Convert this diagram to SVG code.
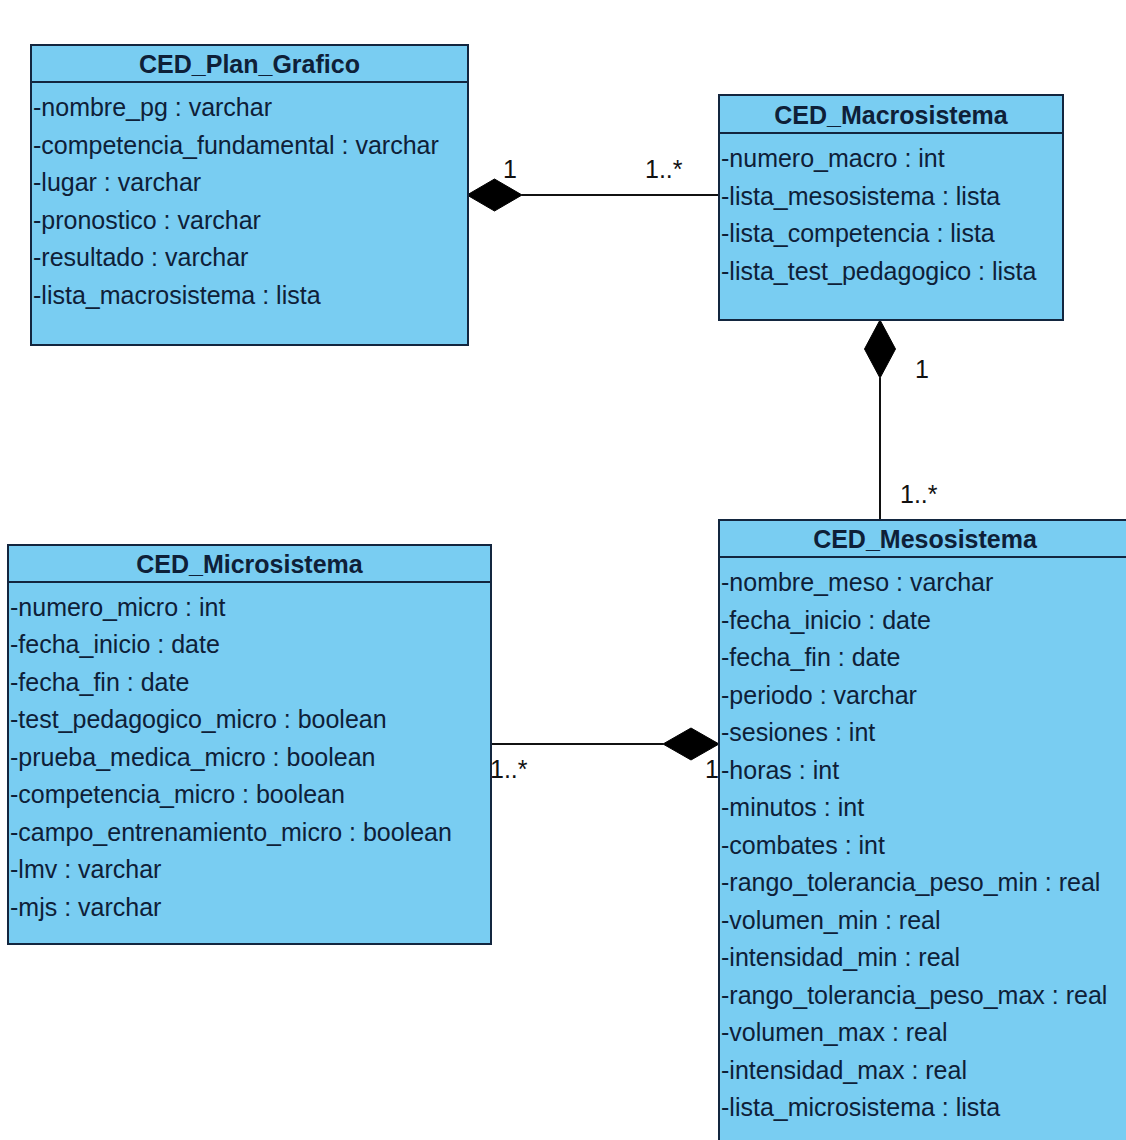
<svg xmlns="http://www.w3.org/2000/svg" width="1126" height="1140" viewBox="0 0 1126 1140">
  <style>
    .box { fill: #79cdf2; stroke: #13263f; stroke-width: 2; }
    .div { stroke: #13263f; stroke-width: 2; }
    .title { font-family: "Liberation Sans", Arial, sans-serif; font-size: 25px; font-weight: bold; fill: #0e2038; text-anchor: middle; }
    .attr { font-family: "Liberation Sans", Arial, sans-serif; font-size: 25px; fill: #0e2038; }
    .mult { font-family: "Liberation Sans", Arial, sans-serif; font-size: 25px; fill: #111; }
    .edge { stroke: #111; stroke-width: 2; fill: none; }
    .diamond { fill: #000; stroke: #000; stroke-width: 1; }
  </style>
  <rect width="1126" height="1140" fill="#ffffff"/>

  <!-- composition connectors -->
  <g id="connectors">
    <!-- CED_Plan_Grafico <>— CED_Macrosistema -->
    <line class="edge" x1="522" y1="195" x2="719" y2="195"/>
    <polygon class="diamond" points="467,195 494.5,179 522,195 494.5,211"/>
    <text class="mult" x="503" y="178">1</text>
    <text class="mult" x="645" y="178">1..*</text>

    <!-- CED_Macrosistema <>— CED_Mesosistema -->
    <line class="edge" x1="880" y1="378" x2="880" y2="520"/>
    <polygon class="diamond" points="880,320 895.5,349 880,378 864.5,349"/>
    <text class="mult" x="915" y="378">1</text>
    <text class="mult" x="900" y="503">1..*</text>

    <!-- CED_Mesosistema <>— CED_Microsistema -->
    <line class="edge" x1="491" y1="744" x2="663" y2="744"/>
    <polygon class="diamond" points="719,744 691,728 663,744 691,760"/>
    <text class="mult" x="490" y="778">1..*</text>
    <text class="mult" x="705" y="778">1</text>
  </g>

  <!-- CED_Plan_Grafico -->
  <g id="plan-grafico">
    <rect class="box" x="31" y="45" width="437" height="300"/>
    <line class="div" x1="31" y1="82" x2="468" y2="82"/>
    <text class="title" x="249.5" y="73">CED_Plan_Grafico</text>
    <text class="attr" x="33" y="116">-nombre_pg : varchar</text>
    <text class="attr" x="33" y="153.5">-competencia_fundamental : varchar</text>
    <text class="attr" x="33" y="191">-lugar : varchar</text>
    <text class="attr" x="33" y="228.5">-pronostico : varchar</text>
    <text class="attr" x="33" y="266">-resultado : varchar</text>
    <text class="attr" x="33" y="303.5">-lista_macrosistema : lista</text>
  </g>

  <!-- CED_Macrosistema -->
  <g id="macrosistema">
    <rect class="box" x="719" y="95" width="344" height="225"/>
    <line class="div" x1="719" y1="133" x2="1063" y2="133"/>
    <text class="title" x="891" y="124">CED_Macrosistema</text>
    <text class="attr" x="721" y="167">-numero_macro : int</text>
    <text class="attr" x="721" y="204.5">-lista_mesosistema : lista</text>
    <text class="attr" x="721" y="242">-lista_competencia : lista</text>
    <text class="attr" x="721" y="279.5">-lista_test_pedagogico : lista</text>
  </g>

  <!-- CED_Microsistema -->
  <g id="microsistema">
    <rect class="box" x="8" y="545" width="483" height="399"/>
    <line class="div" x1="8" y1="582" x2="491" y2="582"/>
    <text class="title" x="249.5" y="573">CED_Microsistema</text>
    <text class="attr" x="10" y="615.5">-numero_micro : int</text>
    <text class="attr" x="10" y="653">-fecha_inicio : date</text>
    <text class="attr" x="10" y="690.5">-fecha_fin : date</text>
    <text class="attr" x="10" y="728">-test_pedagogico_micro : boolean</text>
    <text class="attr" x="10" y="765.5">-prueba_medica_micro : boolean</text>
    <text class="attr" x="10" y="803">-competencia_micro : boolean</text>
    <text class="attr" x="10" y="840.5">-campo_entrenamiento_micro : boolean</text>
    <text class="attr" x="10" y="878">-lmv : varchar</text>
    <text class="attr" x="10" y="915.5">-mjs : varchar</text>
  </g>

  <!-- CED_Mesosistema (runs past the right and bottom edges) -->
  <g id="mesosistema">
    <rect class="box" x="719" y="520" width="412" height="640"/>
    <line class="div" x1="719" y1="557" x2="1131" y2="557"/>
    <text class="title" x="925" y="548">CED_Mesosistema</text>
    <text class="attr" x="721" y="591">-nombre_meso : varchar</text>
    <text class="attr" x="721" y="628.5">-fecha_inicio : date</text>
    <text class="attr" x="721" y="666">-fecha_fin : date</text>
    <text class="attr" x="721" y="703.5">-periodo : varchar</text>
    <text class="attr" x="721" y="741">-sesiones : int</text>
    <text class="attr" x="721" y="778.5">-horas : int</text>
    <text class="attr" x="721" y="816">-minutos : int</text>
    <text class="attr" x="721" y="853.5">-combates : int</text>
    <text class="attr" x="721" y="891">-rango_tolerancia_peso_min : real</text>
    <text class="attr" x="721" y="928.5">-volumen_min : real</text>
    <text class="attr" x="721" y="966">-intensidad_min : real</text>
    <text class="attr" x="721" y="1003.5">-rango_tolerancia_peso_max : real</text>
    <text class="attr" x="721" y="1041">-volumen_max : real</text>
    <text class="attr" x="721" y="1078.5">-intensidad_max : real</text>
    <text class="attr" x="721" y="1116">-lista_microsistema : lista</text>
  </g>
</svg>
